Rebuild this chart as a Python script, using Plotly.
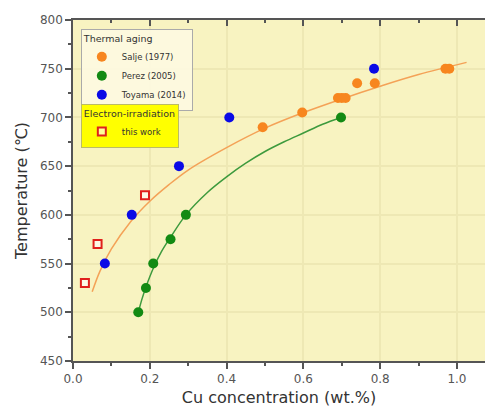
import plotly.graph_objects as go

# ---- data ----
salje_x = [0.494, 0.597, 0.69, 0.70, 0.71, 0.740, 0.786, 0.97, 0.98]
salje_t = [690, 705, 720, 720, 720, 735, 735, 750, 750]

perez_x = [0.17, 0.19, 0.209, 0.254, 0.294, 0.698]
perez_t = [500, 525, 550, 575, 600, 700]

toyama_x = [0.083, 0.153, 0.276, 0.407, 0.784]
toyama_t = [550, 600, 650, 700, 750]

this_x = [0.031, 0.064, 0.1875]
this_t = [530, 570, 620]

# fitted curves as traced on the picture
salje_fit_x = [0.05, 0.07, 0.1, 0.15, 0.2, 0.25, 0.3, 0.4, 0.5, 0.6, 0.7, 0.8, 0.9, 1.025]
salje_fit_t = [521, 542, 565, 593, 614, 631, 646, 669, 689, 705, 719, 732, 744, 756.5]

perez_fit_x = [0.17, 0.18, 0.19, 0.21, 0.23, 0.254, 0.294, 0.35, 0.4, 0.45, 0.5, 0.55, 0.6, 0.65, 0.698]
perez_fit_t = [500, 514, 526, 546, 562, 577, 600, 623, 639, 653, 665, 675, 684, 693, 700]

x_ticks = [0.0, 0.2, 0.4, 0.6, 0.8, 1.0]
x_tick_labels = ["0.0", "0.2", "0.4", "0.6", "0.8", "1.0"]
y_ticks = [450, 500, 550, 600, 650, 700, 750, 800]

FONT = "DejaVu Sans"
fig = go.Figure()

fig.add_trace(go.Scatter(x=salje_fit_x, y=salje_fit_t, mode="lines", line=dict(color="#f4a257", width=1.5, shape="spline"),
                         showlegend=False, hoverinfo="skip"))
fig.add_trace(go.Scatter(x=perez_fit_x, y=perez_fit_t, mode="lines", line=dict(color="#3d9a3d", width=1.5, shape="spline"),
                         showlegend=False, hoverinfo="skip"))

fig.add_trace(go.Scatter(x=salje_x, y=salje_t, mode="markers", name="Salje (1977)",
                         marker=dict(color="#f7861f", size=10, symbol="circle"), legend="legend"))
fig.add_trace(go.Scatter(x=perez_x, y=perez_t, mode="markers", name="Perez (2005)",
                         marker=dict(color="#138a13", size=10, symbol="circle"), legend="legend"))
fig.add_trace(go.Scatter(x=toyama_x, y=toyama_t, mode="markers", name="Toyama (2014)",
                         marker=dict(color="#0a0ae6", size=10, symbol="circle"), legend="legend"))
fig.add_trace(go.Scatter(x=this_x, y=this_t, mode="markers", name="this work",
                         marker=dict(color="rgba(255,255,255,0.6)", size=8, symbol="square",
                                     line=dict(color="#e0201c", width=2)), legend="legend2"))

axis_line = "#555555"
fig.update_layout(
    width=485, height=407,
    margin=dict(l=73, r=0, t=20, b=46),
    paper_bgcolor="white",
    plot_bgcolor="#f8f3c1",
    font=dict(family=FONT, color="#555555", size=12),
    xaxis=dict(range=[0, 1.073], tickvals=x_ticks, ticktext=x_tick_labels, automargin=False,
               ticks="outside", ticklen=6, tickwidth=1.5, tickcolor=axis_line,
               minor=dict(dtick=0.1, ticks="outside", ticklen=3, tickcolor=axis_line, showgrid=False),
               showline=True, linecolor=axis_line, linewidth=1.5,
               showgrid=True, gridcolor="#eee8b4", gridwidth=1.5, zeroline=False,
               title=dict(text="Cu concentration (wt.%)", font=dict(size=16, color="#333333"), standoff=8),
               tickfont=dict(size=12, color="#555555")),
    yaxis=dict(range=[450, 800], tickvals=y_ticks, automargin=False,
               ticks="outside", ticklen=6, tickwidth=1.5, tickcolor=axis_line,
               minor=dict(dtick=25, ticks="outside", ticklen=3, tickcolor=axis_line, showgrid=False),
               showline=True, linecolor=axis_line, linewidth=1.5,
               showgrid=True, gridcolor="#eee8b4", gridwidth=1.5, zeroline=False,
               title=dict(text="Temperature (℃)", font=dict(size=16, color="#333333"), standoff=8),
               tickfont=dict(size=12, color="#555555")),
    xaxis2=dict(overlaying="x", side="top", matches="x", range=[0, 1.073], anchor="y", automargin=False,
                tickvals=x_ticks, ticks="inside", ticklen=6, tickwidth=1.5, tickcolor=axis_line,
                minor=dict(dtick=0.1, ticks="inside", ticklen=3, tickcolor=axis_line, showgrid=False),
                showticklabels=False, showline=True, linecolor=axis_line, linewidth=1.5,
                showgrid=False, zeroline=False),
    legend=dict(x=0.019, y=0.974, xanchor="left", yanchor="top",
                title=dict(text="Thermal aging", font=dict(size=9.5, color="#333333")),
                bgcolor="rgba(253,250,225,0.9)", bordercolor="#aaaaaa", borderwidth=1,
                font=dict(size=8.5, color="#333333"), tracegroupgap=0, itemwidth=30),
    legend2=dict(x=0.019, y=0.755, xanchor="left", yanchor="top",
                 title=dict(text="Electron-irradiation", font=dict(size=9.5, color="#333333")),
                 bgcolor="#ffff00", bordercolor="#bbbb66", borderwidth=1,
                 font=dict(size=8.5, color="#333333"), itemwidth=30),
    showlegend=True,
)

# invisible trace so the top axis renders
fig.add_trace(go.Scatter(x=[0.5], y=[600], xaxis="x2", mode="markers", marker=dict(opacity=0),
                         showlegend=False, hoverinfo="skip"))

fig.write_html("out.html", config={"displayModeBar": False},
               post_script="document.body.style.margin='0';document.body.style.overflow='hidden';")
